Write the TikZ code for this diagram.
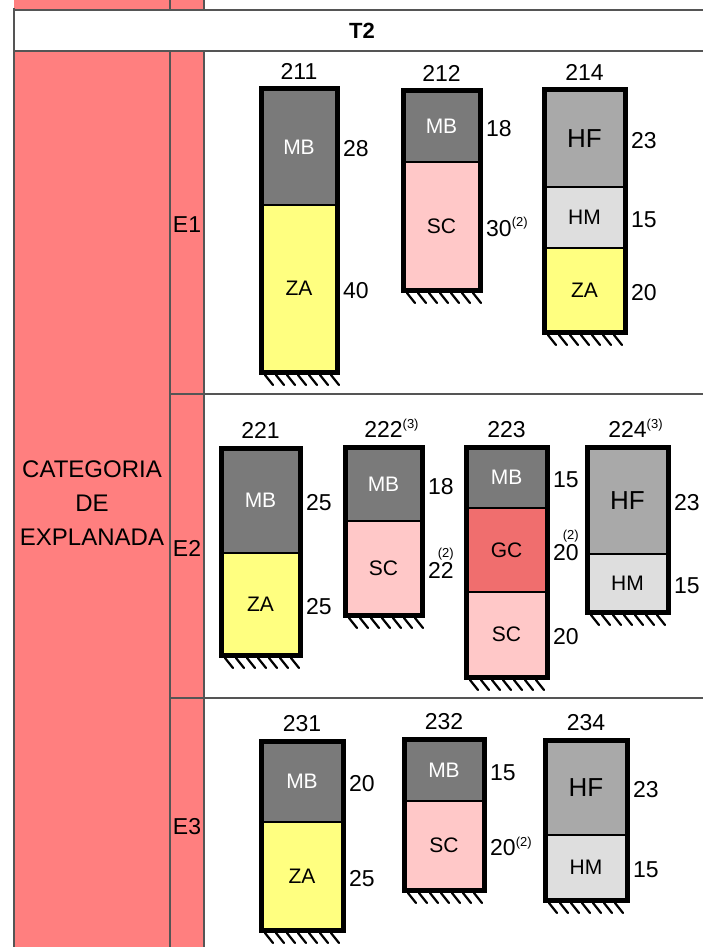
\documentclass[tikz,border=0pt]{standalone}
\usepackage{fontspec}
\setmainfont{Liberation Sans}
\usepackage{xcolor}
\usetikzlibrary{calc}
\definecolor{tabpink}{HTML}{FF7F7F}
\definecolor{grid}{HTML}{555555}
\definecolor{mbgray}{HTML}{7A7A7A}
\definecolor{zayellow}{HTML}{FFFF80}
\definecolor{scpink}{HTML}{FFC8C8}
\definecolor{hfgray}{HTML}{A9A9A9}
\definecolor{hmgray}{HTML}{DEDEDE}
\definecolor{gcred}{HTML}{F06E6E}
\newcommand{\nt}[1]{\textsuperscript{\fontsize{13}{13}\selectfont(#1)}}
\newcommand{\ntup}[1]{\kern-16pt\raisebox{11pt}{\nt{#1}}}
\tikzset{
  rule/.style={draw=grid, line width=2.5pt},
  frame/.style={draw=black, line width=5pt, line join=miter},
  hatch/.style={draw=black, line width=2.2pt, line cap=round},
  layer/.style={draw=black, line width=1.5pt},
  lab/.style={font=\fontsize{21}{21}\selectfont, inner sep=0pt},
  num/.style={font=\fontsize{23}{23}\selectfont, inner sep=1pt, text height=16pt, text depth=0pt},
  head/.style={font=\fontsize{24}{34}\selectfont, align=center},
  lmb/.style={fill=mbgray, text=white},
  lza/.style={fill=zayellow, text=black},
  lsc/.style={fill=scpink, text=black},
  lhf/.style={fill=hfgray, text=black, font=\fontsize{26}{26}\selectfont},
  lhm/.style={fill=hmgray, text=black},
  lgc/.style={fill=gcred, text=black},
}
\begin{document}
\begin{tikzpicture}[x=1pt, y=-1pt]
  \fill[white] (0,0) rectangle (703,947);
  \useasboundingbox (0,0) rectangle (703,947);

  % table
  \fill[tabpink] (14,0) rectangle (204,9);
  \fill[tabpink] (14,51) rectangle (204,947);
  \draw[rule] (14,10) -- (703,10);
  \draw[rule] (14,51) -- (703,51);
  \draw[rule] (14,8) -- (14,947);
  \foreach \x in {170,204}{
    \draw[rule] (\x,0) -- (\x,10);
    \draw[rule] (\x,51) -- (\x,947);
  }
  \draw[rule] (170,394) -- (703,394);
  \draw[rule] (170,698) -- (703,698);

  \node[font=\bfseries\fontsize{22}{22}\selectfont] (t2) at (362,31) {T2};
  \node[head] (cat) at (92,503) {CATEGORIA\\DE\\EXPLANADA};
  \node[num] (e1) at (187,224) {E1};
  \node[num] (e2) at (187,548) {E2};
  \node[num] (e3) at (187,826) {E3};

  % layers: box/left/right/top/bottom/style/label/thickness
  \foreach \bx/\xa/\xb/\ya/\yb/\ly/\lab/\th in {
    211/261/337/89/205/lmb/MB/28,
    211/261/337/205/372/lza/ZA/40,
    212/403/480/91/162/lmb/MB/18,
    212/403/480/162/290/lsc/SC/30\nt{2},
    214/544/625/90/187/lhf/HF/23,
    214/544/625/187/248/lhm/HM/15,
    214/544/625/248/332/lza/ZA/20,
    221/221/300/448/553/lmb/MB/25,
    221/221/300/553/655/lza/ZA/25,
    222/345/422/447/521/lmb/MB/18,
    222/345/422/521/615/lsc/SC/22\ntup{2},
    223/466/547/447/508/lmb/MB/15,
    223/466/547/508/592/lgc/GC/20\ntup{2},
    223/466/547/592/677/lsc/SC/20,
    224/587/668/447/554/lhf/HF/23,
    224/587/668/554/612/lhm/HM/15,
    231/261/343/741/822/lmb/MB/20,
    231/261/343/822/930/lza/ZA/25,
    232/404/484/739/801/lmb/MB/15,
    232/404/484/801/890/lsc/SC/20\nt{2},
    234/545/627/740/835/lhf/HF/23,
    234/545/627/835/900/lhm/HM/15}{
    \draw[layer, \ly] (\xa,\ya) rectangle (\xb,\yb);
    \node[lab, \ly] (\bx-\lab) at ({(\xa+\xb)/2},{(\ya+\yb)/2}) {\lab};
    \node[num, anchor=west] (\bx-\lab-t) at ({\xb+5},{(\ya+\yb)/2+2}) {\th};
  }

  % frames, ground hatching and titles
  \foreach \bx/\xa/\xb/\ya/\yb/\ttl in {
    211/261/337/89/372/211,
    212/403/480/91/290/212,
    214/544/625/90/332/214,
    221/221/300/448/655/221,
    222/345/422/447/615/222\rlap{\nt{3}},
    223/466/547/447/677/223,
    224/587/668/447/612/224\rlap{\nt{3}},
    231/261/343/741/930/231,
    232/404/484/739/890/232,
    234/545/627/740/900/234}{
    \draw[frame] (\xa,\ya) rectangle (\xb,\yb);
    \foreach \i in {0,...,6}
      \draw[hatch] ({\xa+4+11*\i},{\yb+3}) -- ++(8,10);
    \node[num, anchor=south] (t\bx) at ({(\xa+\xb)/2},{\ya-8}) {\ttl};
  }
\end{tikzpicture}
\end{document}
